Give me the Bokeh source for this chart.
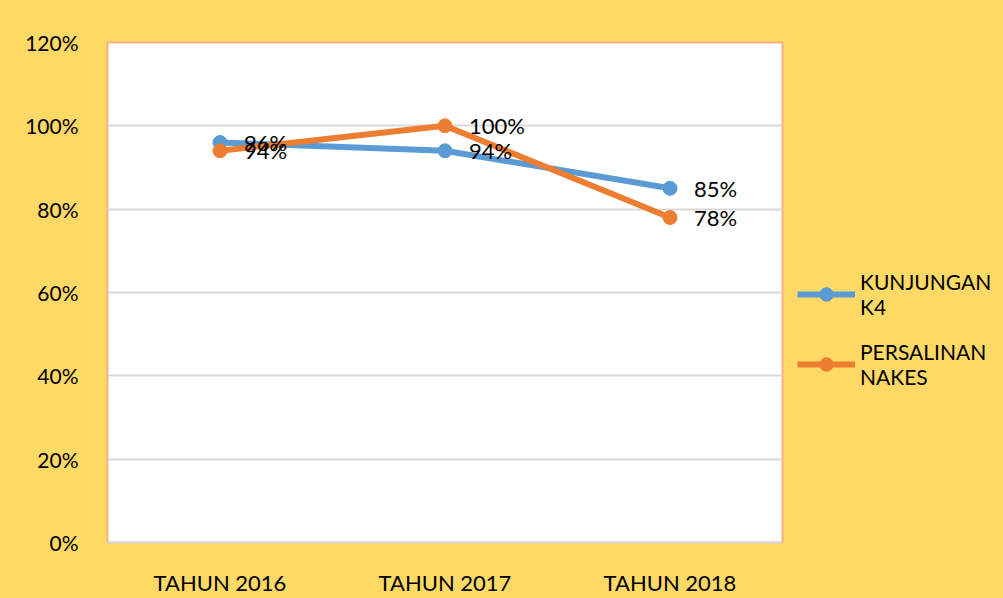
from bokeh.plotting import figure
from bokeh.layouts import row
from bokeh.models import ColumnDataSource, FactorRange, Range1d, FixedTicker, NumeralTickFormatter, Legend, LegendItem, LabelSet
from bokeh.core.properties import value
from bokeh.embed import file_html
from bokeh.resources import INLINE

categories = ["TAHUN 2016", "TAHUN 2017", "TAHUN 2018"]
kunjungan_k4 = [0.96, 0.94, 0.85]
persalinan_nakes = [0.94, 1.00, 0.78]
series_names = ["KUNJUNGAN\nK4", "PERSALINAN\nNAKES"]
y_ticks = [0, 0.2, 0.4, 0.6, 0.8, 1.0, 1.2]

FONT = "Lato"
BG = "#FED966"
colors = ["#5B9BD5", "#ED7D31"]

p = figure(x_range=FactorRange(*categories, range_padding=0), y_range=Range1d(0, 1.2),
           width=790, height=598, output_backend="svg", toolbar_location=None,
           min_border_left=107, min_border_right=8, min_border_top=42, min_border_bottom=56)
p.x_range.factor_padding = 0
p.background_fill_color = "white"
p.border_fill_color = BG
p.outline_line_color = "#F4B183"
p.outline_line_width = 2

p.yaxis.ticker = FixedTicker(ticks=y_ticks)
p.yaxis.formatter = NumeralTickFormatter(format="0%")
p.yaxis.axis_line_color = None
p.yaxis.major_tick_line_color = None
p.yaxis.minor_tick_line_color = None
p.yaxis.major_label_standoff = 23
p.yaxis.major_label_text_font_size = "21px"
p.xaxis.axis_line_color = "#D9D9D9"
p.xaxis.axis_line_width = 2
p.xaxis.major_tick_line_color = None
p.xaxis.minor_tick_line_color = None
p.xaxis.major_label_standoff = 20
p.xaxis.major_label_text_font_size = "22px"
for ax in (p.xaxis[0], p.yaxis[0]):
    ax.major_label_text_font = FONT
    ax.major_label_text_color = "#000000"
p.xgrid.grid_line_color = None
p.ygrid.grid_line_color = "#D9D9D9"
p.ygrid.grid_line_width = 2

for vals, col in zip([kunjungan_k4, persalinan_nakes], colors):
    src = ColumnDataSource(dict(x=categories, y=vals, lbl=[f"{round(v*100)}%" for v in vals]))
    p.line("x", "y", source=src, line_color=col, line_width=6)
    p.scatter("x", "y", source=src, size=14, fill_color=col, line_color=col)
    labels = LabelSet(x="x", y="y", text="lbl", source=src, x_offset=24, y_offset=0,
                      text_baseline="middle", text_font=value(FONT), text_font_size=value("22px"),
                      text_color="#000000")
    p.add_layout(labels)

# legend panel
q = figure(width=213, height=598, output_backend="svg", toolbar_location=None,
           x_range=Range1d(0, 1), y_range=Range1d(0, 1),
           min_border_left=0, min_border_right=0, min_border_top=0, min_border_bottom=0)
q.axis.visible = False
q.grid.grid_line_color = None
q.background_fill_color = BG
q.border_fill_color = BG
q.outline_line_color = BG
q.outline_line_width = 3
items = []
nan = float("nan")
for name, col in zip(series_names, colors):
    lsrc = ColumnDataSource(dict(x=[nan], y=[nan]))
    ln = q.line("x", "y", source=lsrc, line_color=col, line_width=6)
    sc = q.scatter("x", "y", source=lsrc, size=14, fill_color=col, line_color=col)
    items.append(LegendItem(label=name, renderers=[ln, sc]))
legend = Legend(items=items, location=(7, 153), background_fill_alpha=0, margin=0,
                border_line_color=None, label_text_font=FONT, label_text_font_size="21px",
                label_text_color="#000000", label_text_line_height=1.4,
                glyph_width=58, glyph_height=34, spacing=20, label_standoff=5, padding=0)
q.add_layout(legend)

layout = row(p, q, spacing=0, styles={"background-color": BG})
open("out.html", "w").write(file_html(layout, INLINE))
